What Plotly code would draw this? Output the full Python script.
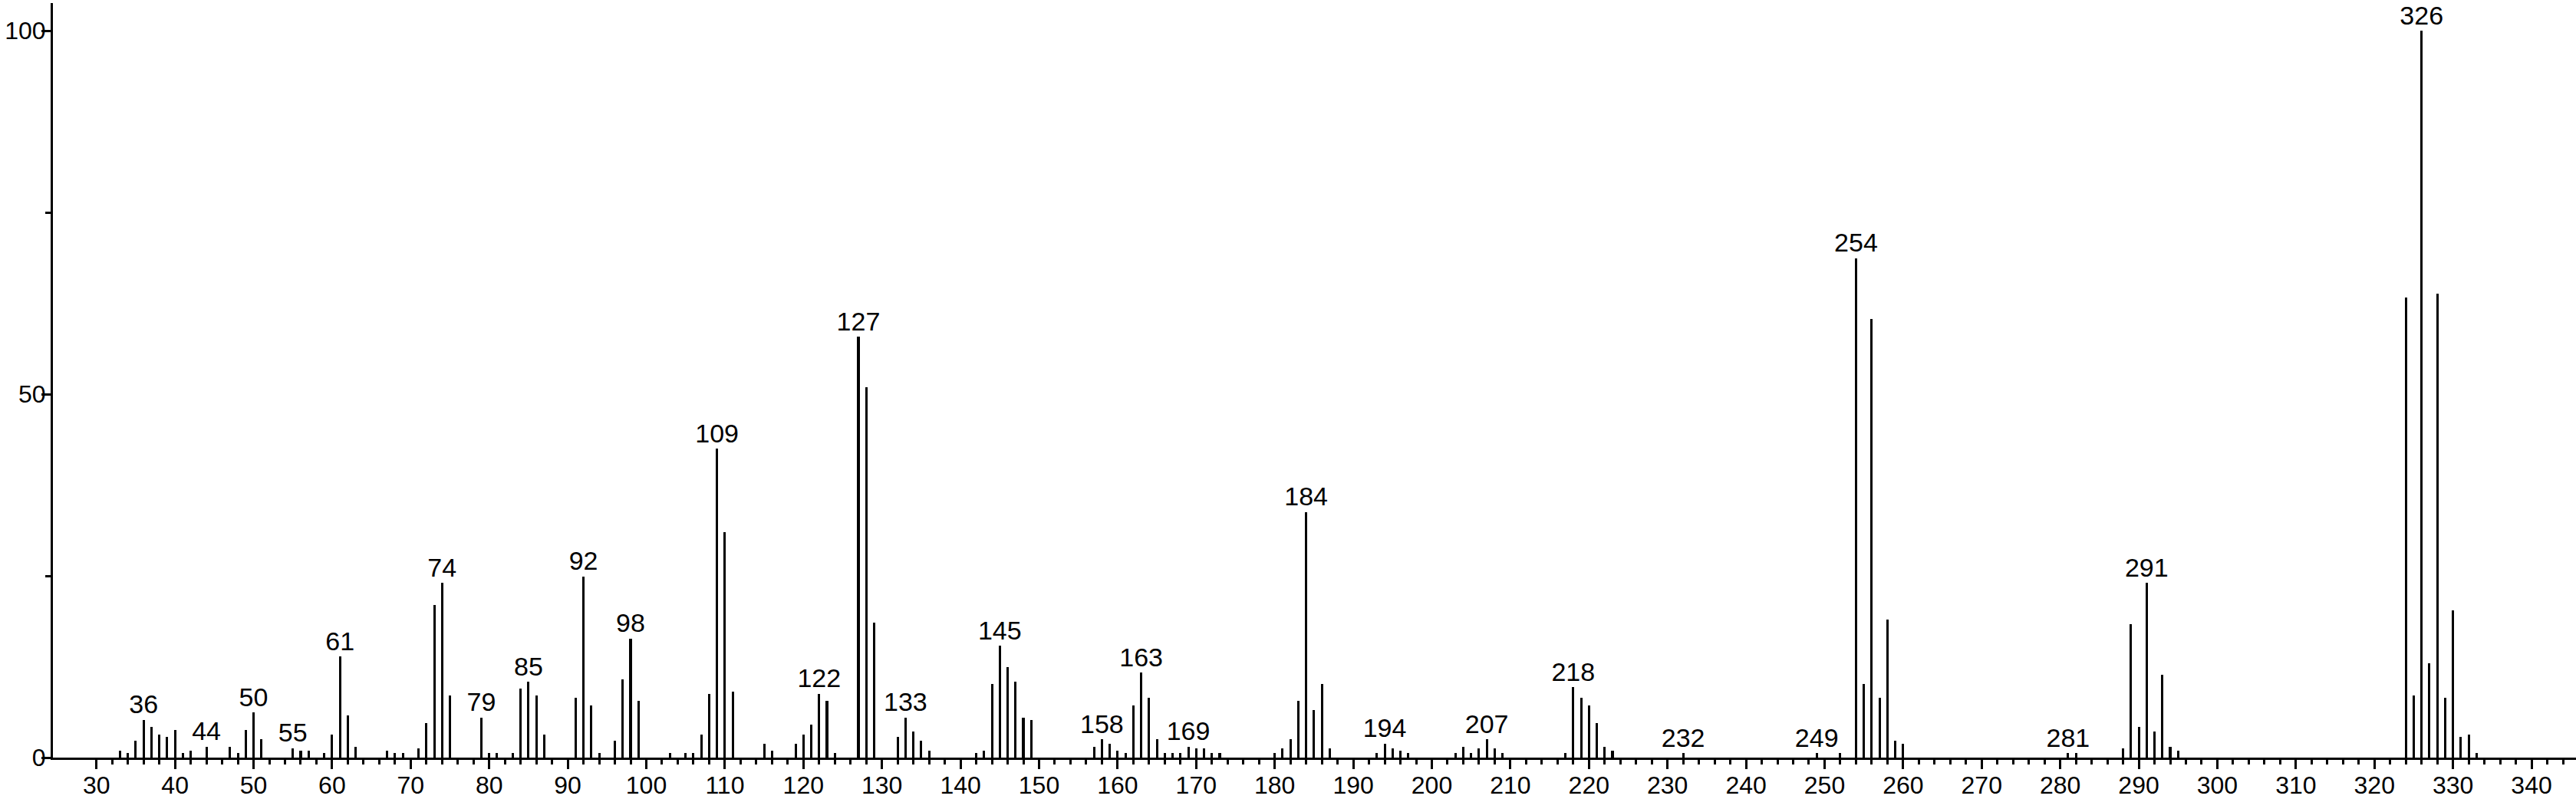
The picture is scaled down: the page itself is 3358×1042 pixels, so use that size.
import plotly.graph_objects as go

# m/z and relative intensity (%)
MZ = [33, 34, 35, 36, 37, 38, 39, 40, 41, 42, 44, 47, 48, 49, 50, 51,
      55, 56, 57, 59, 60, 61, 62, 63, 67, 68, 69, 71, 72, 73, 74, 75,
      79, 80, 81, 83, 84, 85, 86, 87, 91, 92, 93, 94, 96, 97, 98, 99,
      103, 105, 106, 107, 108, 109, 110, 111, 115, 116, 119, 120, 121, 122, 123, 124,
      127, 128, 129, 132, 133, 134, 135, 136, 142, 143, 144, 145, 146, 147, 148, 149,
      157, 158, 159, 160, 161, 162, 163, 164, 165, 166, 167, 168, 169, 170, 171, 172, 173,
      180, 181, 182, 183, 184, 185, 186, 187, 193, 194, 195, 196, 197,
      203, 204, 205, 206, 207, 208, 209, 217, 218, 219, 220, 221, 222, 223,
      232, 249, 252, 254, 255, 256, 257, 258, 259, 260, 281, 282,
      288, 289, 290, 291, 292, 293, 294, 295,
      324, 325, 326, 327, 328, 329, 330, 331, 332, 333]
INTENSITY = [0.9, 0.6, 2.3, 5.2, 4.2, 3.2, 2.9, 3.8, 0.6, 0.9, 1.5, 1.5, 0.6, 3.8, 6.2, 2.5,
             1.3, 0.9, 0.9, 0.6, 3.2, 13.9, 5.8, 1.5, 0.9, 0.6, 0.6, 1.3, 4.8, 21.0, 24.0, 8.5,
             5.5, 0.6, 0.6, 0.6, 9.5, 10.4, 8.5, 3.2, 8.2, 24.9, 7.2, 0.6, 2.3, 10.8, 16.4, 7.8,
             0.6, 0.6, 0.6, 3.2, 8.8, 42.5, 31.0, 9.1, 1.9, 0.9, 1.9, 3.2, 4.5, 8.8, 7.8, 0.6,
             57.9, 51.0, 18.6, 2.9, 5.5, 3.6, 2.3, 0.9, 0.6, 0.9, 10.1, 15.4, 12.4, 10.4, 5.5, 5.2,
             1.5, 2.5, 1.9, 0.9, 0.6, 7.2, 11.7, 8.2, 2.5, 0.6, 0.6, 0.6, 1.5, 1.3, 1.3, 0.6, 0.6,
             0.6, 1.3, 2.5, 7.8, 33.8, 6.5, 10.1, 1.3, 0.6, 1.9, 1.3, 0.9, 0.6,
             0.6, 1.5, 0.6, 1.3, 2.5, 1.3, 0.6, 0.6, 9.7, 8.2, 7.2, 4.8, 1.5, 0.9,
             0.6, 0.6, 0.6, 68.7, 10.1, 60.3, 8.2, 19.0, 2.3, 1.9, 0.6, 0.6,
             1.3, 18.4, 4.2, 24.0, 3.6, 11.4, 1.5, 0.9,
             63.3, 8.5, 100.0, 13.0, 63.8, 8.2, 20.3, 2.9, 3.2, 0.6]

# peaks that carry an m/z label
LABELLED = [36, 44, 50, 55, 61, 74, 79, 85, 92, 98, 109, 122, 127, 133, 145,
            158, 163, 169, 184, 194, 207, 218, 232, 249, 254, 281, 291, 326]

X_TICKS = list(range(30, 341, 10))
X_MINOR = [v for v in range(32, 346, 2) if v % 10]
Y_TICKS = [0, 50, 100]
Y_MINOR = [25, 75]

FONT = "Liberation Sans, Arial, sans-serif"

lookup = dict(zip(MZ, INTENSITY))
lab_y = [lookup[m] for m in LABELLED]

fig = go.Figure()
fig.add_trace(go.Bar(
    x=MZ, y=INTENSITY, width=0.3,
    marker=dict(color="black", line=dict(width=0)),
    showlegend=False,
))
fig.add_trace(go.Scatter(
    x=LABELLED, y=lab_y, mode="text",
    text=[str(m) for m in LABELLED], textposition="top center",
    textfont=dict(family=FONT, size=34, color="black"),
    cliponaxis=False, showlegend=False,
))

fig.update_layout(
    width=3358, height=1042,
    margin=dict(l=69, r=0, t=4, b=54),
    paper_bgcolor="white", plot_bgcolor="white",
    font=dict(family=FONT, color="black", size=32),
    bargap=0,
    xaxis=dict(
        range=[24.46, 345.66], showgrid=False, zeroline=False,
        showline=True, linecolor="black", linewidth=3,
        tickmode="array", tickvals=X_TICKS, automargin=False,
        ticks="outside", ticklen=12, tickwidth=3, tickcolor="black",
        ticklabelstandoff=-6,
        tickfont=dict(family=FONT, size=32, color="black"),
        minor=dict(tickmode="array", tickvals=X_MINOR, ticks="outside",
                   ticklen=6, tickwidth=3, tickcolor="black"),
    ),
    yaxis=dict(
        range=[0, 103.8], showgrid=False, zeroline=False,
        showline=True, linecolor="black", linewidth=3,
        tickmode="array", tickvals=Y_TICKS, automargin=False,
        ticks="outside", ticklen=12, tickwidth=3, tickcolor="black",
        ticklabelstandoff=-12,
        tickfont=dict(family=FONT, size=32, color="black"),
        minor=dict(tickmode="array", tickvals=Y_MINOR, ticks="outside",
                   ticklen=7, tickwidth=3, tickcolor="black"),
    ),
)

# drop the default 8px page margin so the chart sits flush with the window
fig.write_html("out.html", config={"displayModeBar": False},
               post_script="document.body.style.margin='0';")
